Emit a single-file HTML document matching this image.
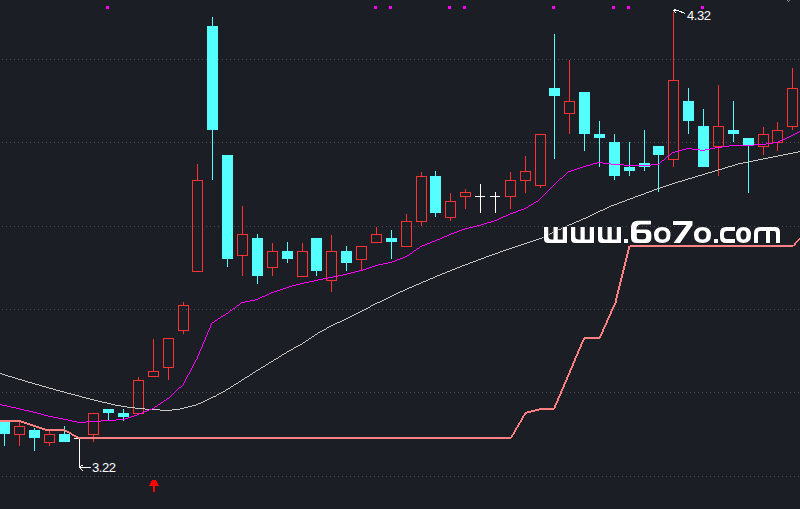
<!DOCTYPE html>
<html><head><meta charset="utf-8"><style>
html,body{margin:0;padding:0;background:#1c1e25;}
body{width:800px;height:509px;overflow:hidden;position:relative;}
svg{position:absolute;left:0;top:0;}
.lbl{position:absolute;color:#fff;font-family:"Liberation Sans",sans-serif;font-size:13px;line-height:13px;white-space:nowrap;letter-spacing:-0.4px;}
</style></head><body>
<svg width="800" height="509" viewBox="0 0 800 509">
<g shape-rendering="crispEdges"><line x1="2" y1="59.5" x2="800" y2="59.5" stroke="#4a505b" stroke-width="1" stroke-dasharray="1 3"/><line x1="2" y1="142.5" x2="800" y2="142.5" stroke="#4a505b" stroke-width="1" stroke-dasharray="1 3"/><line x1="2" y1="226.5" x2="800" y2="226.5" stroke="#4a505b" stroke-width="1" stroke-dasharray="1 3"/><line x1="2" y1="309.5" x2="800" y2="309.5" stroke="#4a505b" stroke-width="1" stroke-dasharray="1 3"/><line x1="2" y1="392.5" x2="800" y2="392.5" stroke="#4a505b" stroke-width="1" stroke-dasharray="1 3"/><line x1="2" y1="476.5" x2="800" y2="476.5" stroke="#4a505b" stroke-width="1" stroke-dasharray="1 3"/></g>
<g shape-rendering="crispEdges"><rect x="0" y="420" width="10" height="14" fill="#54ffff"/><rect x="4" y="434" width="1" height="12" fill="#54ffff"/><rect x="14.5" y="426.5" width="10" height="8" fill="none" stroke="#ff3232"/><rect x="19" y="422" width="1" height="4" fill="#ff3232"/><rect x="19" y="435" width="1" height="11" fill="#ff3232"/><rect x="29" y="430" width="11" height="8" fill="#54ffff"/><rect x="34" y="428" width="1" height="2" fill="#54ffff"/><rect x="34" y="438" width="1" height="13" fill="#54ffff"/><rect x="44.5" y="434.5" width="10" height="8" fill="none" stroke="#ff3232"/><rect x="49" y="430" width="1" height="4" fill="#ff3232"/><rect x="49" y="443" width="1" height="3" fill="#ff3232"/><rect x="59" y="434" width="11" height="8" fill="#54ffff"/><rect x="64" y="426" width="1" height="8" fill="#54ffff"/><rect x="74" y="438" width="10" height="1" fill="#ffffff"/><rect x="88.5" y="413.5" width="10" height="21" fill="none" stroke="#ff3232"/><rect x="93" y="435" width="1" height="7" fill="#ff3232"/><rect x="103" y="409" width="11" height="4" fill="#54ffff"/><rect x="108" y="413" width="1" height="7" fill="#54ffff"/><rect x="118" y="413" width="11" height="4" fill="#54ffff"/><rect x="123" y="409" width="1" height="4" fill="#54ffff"/><rect x="123" y="417" width="1" height="4" fill="#54ffff"/><rect x="133.5" y="380.5" width="10" height="33" fill="none" stroke="#ff3232"/><rect x="138" y="377" width="1" height="3" fill="#ff3232"/><rect x="148.5" y="371.5" width="10" height="5" fill="none" stroke="#ff3232"/><rect x="153" y="339" width="1" height="32" fill="#ff3232"/><rect x="163.5" y="338.5" width="10" height="29" fill="none" stroke="#ff3232"/><rect x="168" y="368" width="1" height="12" fill="#ff3232"/><rect x="178.5" y="305.5" width="10" height="25" fill="none" stroke="#ff3232"/><rect x="183" y="302" width="1" height="3" fill="#ff3232"/><rect x="183" y="331" width="1" height="3" fill="#ff3232"/><rect x="192.5" y="180.5" width="10" height="91" fill="none" stroke="#ff3232"/><rect x="197" y="164" width="1" height="16" fill="#ff3232"/><rect x="207" y="26" width="11" height="104" fill="#54ffff"/><rect x="212" y="17" width="1" height="9" fill="#54ffff"/><rect x="212" y="130" width="1" height="50" fill="#54ffff"/><rect x="222" y="155" width="11" height="104" fill="#54ffff"/><rect x="227" y="259" width="1" height="8" fill="#54ffff"/><rect x="237.5" y="234.5" width="10" height="21" fill="none" stroke="#ff3232"/><rect x="242" y="206" width="1" height="28" fill="#ff3232"/><rect x="242" y="256" width="1" height="20" fill="#ff3232"/><rect x="252" y="238" width="11" height="38" fill="#54ffff"/><rect x="257" y="234" width="1" height="4" fill="#54ffff"/><rect x="257" y="276" width="1" height="8" fill="#54ffff"/><rect x="267.5" y="251.5" width="10" height="16" fill="none" stroke="#ff3232"/><rect x="272" y="243" width="1" height="8" fill="#ff3232"/><rect x="272" y="268" width="1" height="8" fill="#ff3232"/><rect x="282" y="251" width="11" height="8" fill="#54ffff"/><rect x="287" y="242" width="1" height="9" fill="#54ffff"/><rect x="287" y="259" width="1" height="4" fill="#54ffff"/><rect x="297.5" y="251.5" width="10" height="25" fill="none" stroke="#ff3232"/><rect x="302" y="243" width="1" height="8" fill="#ff3232"/><rect x="311" y="238" width="11" height="33" fill="#54ffff"/><rect x="316" y="271" width="1" height="5" fill="#54ffff"/><rect x="326.5" y="251.5" width="10" height="29" fill="none" stroke="#ff3232"/><rect x="331" y="235" width="1" height="16" fill="#ff3232"/><rect x="331" y="281" width="1" height="11" fill="#ff3232"/><rect x="341" y="251" width="11" height="12" fill="#54ffff"/><rect x="346" y="246" width="1" height="5" fill="#54ffff"/><rect x="346" y="263" width="1" height="8" fill="#54ffff"/><rect x="356.5" y="246.5" width="10" height="13" fill="none" stroke="#ff3232"/><rect x="361" y="260" width="1" height="10" fill="#ff3232"/><rect x="371.5" y="234.5" width="10" height="8" fill="none" stroke="#ff3232"/><rect x="376" y="227" width="1" height="7" fill="#ff3232"/><rect x="386" y="238" width="11" height="4" fill="#54ffff"/><rect x="391" y="230" width="1" height="8" fill="#54ffff"/><rect x="391" y="242" width="1" height="17" fill="#54ffff"/><rect x="401.5" y="221.5" width="10" height="25" fill="none" stroke="#ff3232"/><rect x="406" y="214" width="1" height="7" fill="#ff3232"/><rect x="416.5" y="176.5" width="10" height="45" fill="none" stroke="#ff3232"/><rect x="421" y="172" width="1" height="4" fill="#ff3232"/><rect x="421" y="222" width="1" height="4" fill="#ff3232"/><rect x="430" y="176" width="11" height="37" fill="#54ffff"/><rect x="435" y="171" width="1" height="5" fill="#54ffff"/><rect x="435" y="213" width="1" height="4" fill="#54ffff"/><rect x="445.5" y="201.5" width="10" height="16" fill="none" stroke="#ff3232"/><rect x="450" y="193" width="1" height="8" fill="#ff3232"/><rect x="450" y="218" width="1" height="3" fill="#ff3232"/><rect x="460.5" y="192.5" width="10" height="4" fill="none" stroke="#ff3232"/><rect x="465" y="189" width="1" height="3" fill="#ff3232"/><rect x="465" y="197" width="1" height="12" fill="#ff3232"/><rect x="475" y="196" width="10" height="1" fill="#ffffff"/><rect x="480" y="184" width="1" height="29" fill="#ffffff"/><rect x="490" y="196" width="10" height="1" fill="#ffffff"/><rect x="495" y="192" width="1" height="21" fill="#ffffff"/><rect x="505.5" y="180.5" width="10" height="16" fill="none" stroke="#ff3232"/><rect x="510" y="172" width="1" height="8" fill="#ff3232"/><rect x="510" y="197" width="1" height="12" fill="#ff3232"/><rect x="520.5" y="171.5" width="10" height="9" fill="none" stroke="#ff3232"/><rect x="525" y="156" width="1" height="15" fill="#ff3232"/><rect x="525" y="181" width="1" height="12" fill="#ff3232"/><rect x="535.5" y="134.5" width="10" height="51" fill="none" stroke="#ff3232"/><rect x="540" y="186" width="1" height="2" fill="#ff3232"/><rect x="549" y="88" width="11" height="8" fill="#54ffff"/><rect x="554" y="34" width="1" height="54" fill="#54ffff"/><rect x="554" y="96" width="1" height="63" fill="#54ffff"/><rect x="564.5" y="101.5" width="10" height="12" fill="none" stroke="#ff3232"/><rect x="569" y="60" width="1" height="41" fill="#ff3232"/><rect x="569" y="114" width="1" height="20" fill="#ff3232"/><rect x="579" y="92" width="11" height="42" fill="#54ffff"/><rect x="584" y="134" width="1" height="17" fill="#54ffff"/><rect x="594" y="134" width="11" height="4" fill="#54ffff"/><rect x="599" y="121" width="1" height="13" fill="#54ffff"/><rect x="599" y="138" width="1" height="29" fill="#54ffff"/><rect x="609" y="142" width="11" height="34" fill="#54ffff"/><rect x="614" y="134" width="1" height="8" fill="#54ffff"/><rect x="614" y="176" width="1" height="4" fill="#54ffff"/><rect x="624" y="167" width="11" height="4" fill="#54ffff"/><rect x="629" y="142" width="1" height="25" fill="#54ffff"/><rect x="629" y="171" width="1" height="5" fill="#54ffff"/><rect x="639" y="163" width="11" height="4" fill="#54ffff"/><rect x="644" y="130" width="1" height="33" fill="#54ffff"/><rect x="644" y="167" width="1" height="4" fill="#54ffff"/><rect x="653" y="146" width="11" height="9" fill="#54ffff"/><rect x="658" y="155" width="1" height="37" fill="#54ffff"/><rect x="668.5" y="80.5" width="10" height="79" fill="none" stroke="#ff3232"/><rect x="673" y="12" width="1" height="68" fill="#ff3232"/><rect x="673" y="160" width="1" height="7" fill="#ff3232"/><rect x="683" y="101" width="11" height="20" fill="#54ffff"/><rect x="688" y="88" width="1" height="13" fill="#54ffff"/><rect x="688" y="121" width="1" height="13" fill="#54ffff"/><rect x="698" y="126" width="11" height="41" fill="#54ffff"/><rect x="703" y="109" width="1" height="17" fill="#54ffff"/><rect x="713.5" y="126.5" width="10" height="20" fill="none" stroke="#ff3232"/><rect x="718" y="85" width="1" height="41" fill="#ff3232"/><rect x="718" y="147" width="1" height="29" fill="#ff3232"/><rect x="728" y="130" width="11" height="4" fill="#54ffff"/><rect x="733" y="101" width="1" height="29" fill="#54ffff"/><rect x="733" y="134" width="1" height="8" fill="#54ffff"/><rect x="743" y="138" width="11" height="7" fill="#54ffff"/><rect x="748" y="145" width="1" height="48" fill="#54ffff"/><rect x="758.5" y="134.5" width="10" height="12" fill="none" stroke="#ff3232"/><rect x="763" y="127" width="1" height="7" fill="#ff3232"/><rect x="763" y="147" width="1" height="8" fill="#ff3232"/><rect x="772.5" y="130.5" width="10" height="12" fill="none" stroke="#ff3232"/><rect x="777" y="122" width="1" height="8" fill="#ff3232"/><rect x="777" y="143" width="1" height="8" fill="#ff3232"/><rect x="787.5" y="88.5" width="10" height="38" fill="none" stroke="#ff3232"/><rect x="792" y="68" width="1" height="20" fill="#ff3232"/><rect x="792" y="127" width="1" height="3" fill="#ff3232"/></g>
<path d="M798 151h2v1h-2zM793 152h5v1h-5zM788 153h5v1h-5zM783 154h5v1h-5zM778 155h5v1h-5zM773 156h5v1h-5zM768 157h5v1h-5zM763 158h5v1h-5zM758 159h5v1h-5zM753 160h5v1h-5zM748 161h5v1h-5zM743 162h5v1h-5zM738 163h5v1h-5zM735 164h3v1h-3zM732 165h3v1h-3zM728 166h4v1h-4zM725 167h3v1h-3zM722 168h3v1h-3zM718 169h4v1h-4zM715 170h3v1h-3zM712 171h3v1h-3zM708 172h4v1h-4zM705 173h3v1h-3zM702 174h3v1h-3zM698 175h4v1h-4zM695 176h3v1h-3zM692 177h3v1h-3zM688 178h4v1h-4zM685 179h3v1h-3zM682 180h3v1h-3zM678 181h4v1h-4zM675 182h3v1h-3zM672 183h3v1h-3zM669 184h3v1h-3zM666 185h3v1h-3zM663 186h3v1h-3zM660 187h3v1h-3zM657 188h3v1h-3zM654 189h3v1h-3zM652 190h2v1h-2zM649 191h3v1h-3zM646 192h3v1h-3zM644 193h2v1h-2zM641 194h3v1h-3zM638 195h3v1h-3zM635 196h3v1h-3zM633 197h2v1h-2zM630 198h3v1h-3zM627 199h3v1h-3zM625 200h2v1h-2zM622 201h3v1h-3zM619 202h3v1h-3zM617 203h2v1h-2zM614 204h3v1h-3zM611 205h3v1h-3zM609 206h2v1h-2zM607 207h2v1h-2zM605 208h2v1h-2zM603 209h2v1h-2zM600 210h3v1h-3zM598 211h2v1h-2zM596 212h2v1h-2zM594 213h2v1h-2zM592 214h2v1h-2zM590 215h2v1h-2zM588 216h2v1h-2zM586 217h2v1h-2zM583 218h3v1h-3zM581 219h2v1h-2zM579 220h2v1h-2zM576 221h3v1h-3zM574 222h2v1h-2zM572 223h2v1h-2zM569 224h3v1h-3zM567 225h2v1h-2zM565 226h2v1h-2zM563 227h2v1h-2zM561 228h2v1h-2zM558 229h3v1h-3zM556 230h2v1h-2zM554 231h2v1h-2zM552 232h2v1h-2zM550 233h2v1h-2zM548 234h2v1h-2zM546 235h2v1h-2zM544 236h2v1h-2zM542 237h2v1h-2zM539 238h3v1h-3zM536 239h3v1h-3zM533 240h3v1h-3zM530 241h3v1h-3zM527 242h3v1h-3zM524 243h3v1h-3zM521 244h3v1h-3zM518 245h3v1h-3zM515 246h3v1h-3zM512 247h3v1h-3zM509 248h3v1h-3zM506 249h3v1h-3zM503 250h3v1h-3zM500 251h3v1h-3zM498 252h2v1h-2zM495 253h3v1h-3zM492 254h3v1h-3zM489 255h3v1h-3zM486 256h3v1h-3zM484 257h2v1h-2zM481 258h3v1h-3zM478 259h3v1h-3zM476 260h2v1h-2zM473 261h3v1h-3zM470 262h3v1h-3zM468 263h2v1h-2zM465 264h3v1h-3zM462 265h3v1h-3zM460 266h2v1h-2zM457 267h3v1h-3zM455 268h2v1h-2zM452 269h3v1h-3zM450 270h2v1h-2zM447 271h3v1h-3zM445 272h2v1h-2zM442 273h3v1h-3zM440 274h2v1h-2zM437 275h3v1h-3zM435 276h2v1h-2zM433 277h2v1h-2zM430 278h3v1h-3zM428 279h2v1h-2zM426 280h2v1h-2zM423 281h3v1h-3zM421 282h2v1h-2zM419 283h2v1h-2zM416 284h3v1h-3zM414 285h2v1h-2zM412 286h2v1h-2zM409 287h3v1h-3zM407 288h2v1h-2zM405 289h2v1h-2zM403 290h2v1h-2zM400 291h3v1h-3zM398 292h2v1h-2zM396 293h2v1h-2zM394 294h2v1h-2zM392 295h2v1h-2zM390 296h2v1h-2zM388 297h2v1h-2zM386 298h2v1h-2zM384 299h2v1h-2zM382 300h2v1h-2zM380 301h2v1h-2zM377 302h3v1h-3zM375 303h2v1h-2zM373 304h2v1h-2zM371 305h2v1h-2zM370 306h1v1h-1zM368 307h2v1h-2zM366 308h2v1h-2zM364 309h2v1h-2zM362 310h2v1h-2zM360 311h2v1h-2zM358 312h2v1h-2zM356 313h2v1h-2zM354 314h2v1h-2zM352 315h2v1h-2zM350 316h2v1h-2zM348 317h2v1h-2zM346 318h2v1h-2zM344 319h2v1h-2zM342 320h2v1h-2zM340 321h2v1h-2zM337 322h3v1h-3zM335 323h2v1h-2zM333 324h2v1h-2zM331 325h2v1h-2zM329 326h2v1h-2zM327 327h2v1h-2zM326 328h1v1h-1zM324 329h2v1h-2zM322 330h2v1h-2zM320 331h2v1h-2zM318 332h2v1h-2zM317 333h1v1h-1zM315 334h2v1h-2zM314 335h1v1h-1zM312 336h2v1h-2zM311 337h1v1h-1zM309 338h2v1h-2zM308 339h1v1h-1zM306 340h2v1h-2zM305 341h1v1h-1zM303 342h2v1h-2zM302 343h1v1h-1zM300 344h2v1h-2zM298 345h2v1h-2zM296 346h2v1h-2zM294 347h2v1h-2zM293 348h1v1h-1zM291 349h2v1h-2zM289 350h2v1h-2zM287 351h2v1h-2zM286 352h1v1h-1zM284 353h2v1h-2zM282 354h2v1h-2zM281 355h1v1h-1zM279 356h2v1h-2zM278 357h1v1h-1zM276 358h2v1h-2zM274 359h2v1h-2zM273 360h1v1h-1zM271 361h2v1h-2zM269 362h2v1h-2zM268 363h1v1h-1zM266 364h2v1h-2zM265 365h1v1h-1zM263 366h2v1h-2zM261 367h2v1h-2zM260 368h1v1h-1zM258 369h2v1h-2zM256 370h2v1h-2zM255 371h1v1h-1zM253 372h2v1h-2zM0 373h2v1h-2zM252 373h1v1h-1zM2 374h3v1h-3zM250 374h2v1h-2zM5 375h3v1h-3zM249 375h1v1h-1zM8 376h4v1h-4zM247 376h2v1h-2zM12 377h3v1h-3zM245 377h2v1h-2zM15 378h3v1h-3zM244 378h1v1h-1zM18 379h4v1h-4zM242 379h2v1h-2zM22 380h3v1h-3zM241 380h1v1h-1zM25 381h3v1h-3zM239 381h2v1h-2zM28 382h4v1h-4zM238 382h1v1h-1zM32 383h3v1h-3zM236 383h2v1h-2zM35 384h4v1h-4zM234 384h2v1h-2zM39 385h3v1h-3zM233 385h1v1h-1zM42 386h4v1h-4zM231 386h2v1h-2zM46 387h3v1h-3zM230 387h1v1h-1zM49 388h4v1h-4zM228 388h2v1h-2zM53 389h3v1h-3zM226 389h2v1h-2zM56 390h4v1h-4zM225 390h1v1h-1zM60 391h4v1h-4zM223 391h2v1h-2zM64 392h3v1h-3zM221 392h2v1h-2zM67 393h4v1h-4zM219 393h2v1h-2zM71 394h4v1h-4zM217 394h2v1h-2zM75 395h4v1h-4zM216 395h1v1h-1zM79 396h3v1h-3zM213 396h3v1h-3zM82 397h4v1h-4zM211 397h2v1h-2zM86 398h4v1h-4zM209 398h2v1h-2zM90 399h4v1h-4zM207 399h2v1h-2zM94 400h4v1h-4zM205 400h2v1h-2zM98 401h4v1h-4zM203 401h2v1h-2zM102 402h5v1h-5zM201 402h2v1h-2zM107 403h4v1h-4zM198 403h3v1h-3zM111 404h4v1h-4zM196 404h2v1h-2zM115 405h6v1h-6zM192 405h4v1h-4zM121 406h6v1h-6zM188 406h4v1h-4zM127 407h8v1h-8zM184 407h4v1h-4zM135 408h10v1h-10zM180 408h4v1h-4zM145 409h15v1h-15zM172 409h8v1h-8zM160 410h12v1h-12z" fill="#c8c8c4" shape-rendering="crispEdges"/>
<path d="M799 131h1v1h-1zM797 132h2v1h-2zM795 133h2v1h-2zM793 134h2v1h-2zM791 135h2v1h-2zM789 136h2v1h-2zM787 137h2v1h-2zM785 138h2v1h-2zM782 139h3v1h-3zM780 140h2v1h-2zM778 141h2v1h-2zM773 142h5v1h-5zM766 143h7v1h-7zM754 144h12v1h-12zM729 145h25v1h-25zM722 146h7v1h-7zM715 147h7v1h-7zM686 148h6v1h-6zM710 148h5v1h-5zM682 149h4v1h-4zM692 149h8v1h-8zM705 149h5v1h-5zM679 150h3v1h-3zM700 150h5v1h-5zM675 151h4v1h-4zM672 152h3v1h-3zM671 153h1v1h-1zM670 154h1v1h-1zM669 155h1v1h-1zM667 156h2v1h-2zM666 157h1v1h-1zM665 158h1v1h-1zM664 159h1v1h-1zM662 160h2v1h-2zM661 161h1v1h-1zM597 162h6v1h-6zM660 162h1v1h-1zM593 163h4v1h-4zM603 163h8v1h-8zM659 163h1v1h-1zM590 164h3v1h-3zM611 164h13v1h-13zM651 164h8v1h-8zM586 165h4v1h-4zM624 165h27v1h-27zM583 166h3v1h-3zM580 167h3v1h-3zM577 168h3v1h-3zM574 169h3v1h-3zM571 170h3v1h-3zM568 171h3v1h-3zM567 172h1v1h-1zM566 173h1v1h-1zM565 174h1v1h-1zM564 175h1v1h-1zM563 176h1v1h-1zM562 177h1v1h-1zM560 178h2v1h-2zM559 179h1v1h-1zM558 180h1v1h-1zM557 181h1v1h-1zM556 182h1v1h-1zM555 183h1v1h-1zM554 184h1v1h-1zM553 185h1v1h-1zM552 186h1v1h-1zM551 187h1v1h-1zM550 188h1v1h-1zM549 189h1v1h-1zM548 190h1v1h-1zM547 191h1v1h-1zM546 192h1v1h-1zM545 193h1v1h-1zM544 194h1v1h-1zM543 195h1v1h-1zM542 196h1v1h-1zM541 197h1v1h-1zM540 198h1v1h-1zM539 199h1v1h-1zM538 200h1v1h-1zM536 201h2v1h-2zM534 202h2v1h-2zM533 203h1v1h-1zM531 204h2v1h-2zM529 205h2v1h-2zM528 206h1v1h-1zM526 207h2v1h-2zM524 208h2v1h-2zM521 209h3v1h-3zM518 210h3v1h-3zM516 211h2v1h-2zM513 212h3v1h-3zM510 213h3v1h-3zM508 214h2v1h-2zM506 215h2v1h-2zM503 216h3v1h-3zM501 217h2v1h-2zM499 218h2v1h-2zM497 219h2v1h-2zM494 220h3v1h-3zM491 221h3v1h-3zM487 222h4v1h-4zM484 223h3v1h-3zM481 224h3v1h-3zM477 225h4v1h-4zM473 226h4v1h-4zM469 227h4v1h-4zM465 228h4v1h-4zM462 229h3v1h-3zM459 230h3v1h-3zM457 231h2v1h-2zM454 232h3v1h-3zM451 233h3v1h-3zM449 234h2v1h-2zM447 235h2v1h-2zM444 236h3v1h-3zM442 237h2v1h-2zM440 238h2v1h-2zM437 239h3v1h-3zM435 240h2v1h-2zM432 241h3v1h-3zM430 242h2v1h-2zM427 243h3v1h-3zM425 244h2v1h-2zM422 245h3v1h-3zM420 246h2v1h-2zM419 247h1v1h-1zM417 248h2v1h-2zM416 249h1v1h-1zM414 250h2v1h-2zM413 251h1v1h-1zM412 252h1v1h-1zM410 253h2v1h-2zM409 254h1v1h-1zM407 255h2v1h-2zM405 256h2v1h-2zM403 257h2v1h-2zM400 258h3v1h-3zM397 259h3v1h-3zM395 260h2v1h-2zM392 261h3v1h-3zM388 262h4v1h-4zM383 263h5v1h-5zM378 264h5v1h-5zM375 265h3v1h-3zM372 266h3v1h-3zM369 267h3v1h-3zM366 268h3v1h-3zM363 269h3v1h-3zM359 270h4v1h-4zM355 271h4v1h-4zM351 272h4v1h-4zM347 273h4v1h-4zM343 274h4v1h-4zM338 275h5v1h-5zM333 276h5v1h-5zM328 277h5v1h-5zM323 278h5v1h-5zM318 279h5v1h-5zM314 280h4v1h-4zM309 281h5v1h-5zM304 282h5v1h-5zM300 283h4v1h-4zM296 284h4v1h-4zM292 285h4v1h-4zM289 286h3v1h-3zM286 287h3v1h-3zM283 288h3v1h-3zM280 289h3v1h-3zM277 290h3v1h-3zM274 291h3v1h-3zM271 292h3v1h-3zM269 293h2v1h-2zM267 294h2v1h-2zM265 295h2v1h-2zM262 296h3v1h-3zM260 297h2v1h-2zM258 298h2v1h-2zM255 299h3v1h-3zM250 300h5v1h-5zM245 301h5v1h-5zM241 302h4v1h-4zM240 303h1v1h-1zM239 304h1v1h-1zM237 305h2v1h-2zM236 306h1v1h-1zM235 307h1v1h-1zM233 308h2v1h-2zM232 309h1v1h-1zM230 310h2v1h-2zM229 311h1v1h-1zM228 312h1v1h-1zM226 313h2v1h-2zM225 314h1v1h-1zM223 315h2v1h-2zM221 316h2v1h-2zM220 317h1v1h-1zM218 318h2v1h-2zM217 319h1v1h-1zM215 320h2v1h-2zM214 321h1v1h-1zM212 322h2v1h-2zM211 323h1v1h-1zM211 324h1v1h-1zM210 325h1v1h-1zM210 326h1v1h-1zM210 327h1v1h-1zM209 328h1v1h-1zM209 329h1v1h-1zM208 330h1v1h-1zM208 331h1v1h-1zM207 332h1v1h-1zM207 333h1v1h-1zM207 334h1v1h-1zM206 335h1v1h-1zM206 336h1v1h-1zM205 337h1v1h-1zM205 338h1v1h-1zM205 339h1v1h-1zM204 340h1v1h-1zM204 341h1v1h-1zM203 342h1v1h-1zM203 343h1v1h-1zM202 344h1v1h-1zM202 345h1v1h-1zM202 346h1v1h-1zM201 347h1v1h-1zM201 348h1v1h-1zM200 349h1v1h-1zM200 350h1v1h-1zM199 351h1v1h-1zM199 352h1v1h-1zM199 353h1v1h-1zM198 354h1v1h-1zM198 355h1v1h-1zM197 356h1v1h-1zM197 357h1v1h-1zM197 358h1v1h-1zM196 359h1v1h-1zM195 360h1v1h-1zM195 361h1v1h-1zM194 362h1v1h-1zM194 363h1v1h-1zM193 364h1v1h-1zM193 365h1v1h-1zM192 366h1v1h-1zM192 367h1v1h-1zM191 368h1v1h-1zM191 369h1v1h-1zM190 370h1v1h-1zM190 371h1v1h-1zM189 372h1v1h-1zM189 373h1v1h-1zM188 374h1v1h-1zM187 375h1v1h-1zM187 376h1v1h-1zM186 377h1v1h-1zM186 378h1v1h-1zM185 379h1v1h-1zM185 380h1v1h-1zM184 381h1v1h-1zM184 382h1v1h-1zM183 383h1v1h-1zM183 384h1v1h-1zM182 385h1v1h-1zM181 386h1v1h-1zM179 387h2v1h-2zM178 388h1v1h-1zM177 389h1v1h-1zM176 390h1v1h-1zM175 391h1v1h-1zM174 392h1v1h-1zM173 393h1v1h-1zM172 394h1v1h-1zM171 395h1v1h-1zM170 396h1v1h-1zM169 397h1v1h-1zM167 398h2v1h-2zM166 399h1v1h-1zM164 400h2v1h-2zM163 401h1v1h-1zM161 402h2v1h-2zM160 403h1v1h-1zM0 404h2v1h-2zM158 404h2v1h-2zM2 405h5v1h-5zM157 405h1v1h-1zM7 406h4v1h-4zM155 406h2v1h-2zM11 407h5v1h-5zM154 407h1v1h-1zM16 408h4v1h-4zM152 408h2v1h-2zM20 409h4v1h-4zM149 409h3v1h-3zM24 410h5v1h-5zM147 410h2v1h-2zM29 411h4v1h-4zM144 411h3v1h-3zM33 412h4v1h-4zM142 412h2v1h-2zM37 413h4v1h-4zM139 413h3v1h-3zM41 414h3v1h-3zM137 414h2v1h-2zM44 415h4v1h-4zM134 415h3v1h-3zM48 416h5v1h-5zM131 416h3v1h-3zM53 417h5v1h-5zM128 417h3v1h-3zM58 418h5v1h-5zM125 418h3v1h-3zM63 419h5v1h-5zM116 419h9v1h-9zM68 420h4v1h-4zM101 420h15v1h-15zM72 421h5v1h-5zM86 421h15v1h-15zM77 422h9v1h-9z" fill="#ff00ff" shape-rendering="crispEdges"/>
<path d="M799 238h1v1h-1zM798 239h2v1h-2zM797 240h2v1h-2zM796 241h2v1h-2zM795 242h2v1h-2zM794 243h2v1h-2zM794 244h2v1h-2zM630 245h165v1h-165zM628 246h165v1h-165zM628 247h2v1h-2zM628 248h2v1h-2zM628 249h2v1h-2zM627 250h2v1h-2zM627 251h2v1h-2zM627 252h2v1h-2zM627 253h2v1h-2zM626 254h2v1h-2zM626 255h2v1h-2zM626 256h2v1h-2zM626 257h2v1h-2zM625 258h2v1h-2zM625 259h2v1h-2zM625 260h2v1h-2zM625 261h2v1h-2zM624 262h2v1h-2zM624 263h2v1h-2zM624 264h2v1h-2zM624 265h2v1h-2zM623 266h2v1h-2zM623 267h2v1h-2zM623 268h2v1h-2zM623 269h2v1h-2zM622 270h2v1h-2zM622 271h2v1h-2zM622 272h2v1h-2zM622 273h2v1h-2zM621 274h2v1h-2zM621 275h2v1h-2zM621 276h2v1h-2zM621 277h2v1h-2zM620 278h2v1h-2zM620 279h2v1h-2zM620 280h2v1h-2zM620 281h2v1h-2zM619 282h2v1h-2zM619 283h2v1h-2zM619 284h2v1h-2zM619 285h2v1h-2zM618 286h2v1h-2zM618 287h2v1h-2zM618 288h2v1h-2zM618 289h2v1h-2zM617 290h2v1h-2zM617 291h2v1h-2zM617 292h2v1h-2zM617 293h2v1h-2zM616 294h2v1h-2zM616 295h2v1h-2zM616 296h2v1h-2zM616 297h2v1h-2zM615 298h2v1h-2zM615 299h2v1h-2zM615 300h2v1h-2zM615 301h2v1h-2zM615 302h2v1h-2zM614 303h2v1h-2zM614 304h2v1h-2zM613 305h2v1h-2zM613 306h2v1h-2zM612 307h2v1h-2zM612 308h2v1h-2zM611 309h2v1h-2zM611 310h2v1h-2zM610 311h2v1h-2zM610 312h2v1h-2zM610 313h2v1h-2zM609 314h2v1h-2zM609 315h2v1h-2zM608 316h2v1h-2zM608 317h2v1h-2zM607 318h2v1h-2zM607 319h2v1h-2zM606 320h2v1h-2zM606 321h2v1h-2zM606 322h2v1h-2zM605 323h2v1h-2zM605 324h2v1h-2zM604 325h2v1h-2zM604 326h2v1h-2zM603 327h2v1h-2zM603 328h2v1h-2zM602 329h2v1h-2zM602 330h2v1h-2zM602 331h2v1h-2zM601 332h2v1h-2zM601 333h2v1h-2zM600 334h2v1h-2zM600 335h2v1h-2zM599 336h2v1h-2zM584 337h17v1h-17zM583 338h17v1h-17zM583 339h2v1h-2zM582 340h2v1h-2zM582 341h2v1h-2zM581 342h2v1h-2zM581 343h2v1h-2zM580 344h2v1h-2zM580 345h2v1h-2zM580 346h2v1h-2zM579 347h2v1h-2zM579 348h2v1h-2zM578 349h2v1h-2zM578 350h2v1h-2zM577 351h2v1h-2zM577 352h2v1h-2zM577 353h2v1h-2zM576 354h2v1h-2zM576 355h2v1h-2zM575 356h2v1h-2zM575 357h2v1h-2zM574 358h2v1h-2zM574 359h2v1h-2zM574 360h2v1h-2zM573 361h2v1h-2zM573 362h2v1h-2zM572 363h2v1h-2zM572 364h2v1h-2zM572 365h2v1h-2zM571 366h2v1h-2zM571 367h2v1h-2zM570 368h2v1h-2zM570 369h2v1h-2zM569 370h2v1h-2zM569 371h2v1h-2zM569 372h2v1h-2zM568 373h2v1h-2zM568 374h2v1h-2zM567 375h2v1h-2zM567 376h2v1h-2zM566 377h2v1h-2zM566 378h2v1h-2zM566 379h2v1h-2zM565 380h2v1h-2zM565 381h2v1h-2zM564 382h2v1h-2zM564 383h2v1h-2zM563 384h2v1h-2zM563 385h2v1h-2zM563 386h2v1h-2zM562 387h2v1h-2zM562 388h2v1h-2zM561 389h2v1h-2zM561 390h2v1h-2zM560 391h2v1h-2zM560 392h2v1h-2zM560 393h2v1h-2zM559 394h2v1h-2zM559 395h2v1h-2zM558 396h2v1h-2zM558 397h2v1h-2zM557 398h2v1h-2zM557 399h2v1h-2zM557 400h2v1h-2zM556 401h2v1h-2zM556 402h2v1h-2zM555 403h2v1h-2zM555 404h2v1h-2zM554 405h2v1h-2zM554 406h2v1h-2zM554 407h2v1h-2zM539 408h16v1h-16zM535 409h19v1h-19zM531 410h8v1h-8zM527 411h8v1h-8zM525 412h6v1h-6zM524 413h3v1h-3zM524 414h2v1h-2zM523 415h2v1h-2zM522 416h2v1h-2zM522 417h2v1h-2zM521 418h2v1h-2zM521 419h2v1h-2zM0 420h21v1h-21zM520 420h2v1h-2zM0 421h24v1h-24zM520 421h2v1h-2zM21 422h6v1h-6zM519 422h2v1h-2zM24 423h6v1h-6zM518 423h2v1h-2zM27 424h6v1h-6zM518 424h2v1h-2zM30 425h6v1h-6zM517 425h2v1h-2zM33 426h6v1h-6zM517 426h2v1h-2zM36 427h6v1h-6zM516 427h2v1h-2zM39 428h6v1h-6zM515 428h2v1h-2zM42 429h23v1h-23zM515 429h2v1h-2zM45 430h22v1h-22zM514 430h2v1h-2zM65 431h4v1h-4zM514 431h2v1h-2zM67 432h4v1h-4zM513 432h2v1h-2zM69 433h3v1h-3zM513 433h2v1h-2zM71 434h3v1h-3zM512 434h2v1h-2zM72 435h4v1h-4zM511 435h2v1h-2zM74 436h4v1h-4zM511 436h2v1h-2zM76 437h436v1h-436zM78 438h433v1h-433z" fill="#ff8080" shape-rendering="crispEdges"/>
<g shape-rendering="crispEdges"><rect x="106" y="6" width="3" height="3" fill="#ff00ff"/><rect x="374" y="6" width="3" height="3" fill="#ff00ff"/><rect x="389" y="6" width="3" height="3" fill="#ff00ff"/><rect x="448" y="6" width="3" height="3" fill="#ff00ff"/><rect x="463" y="6" width="3" height="3" fill="#ff00ff"/><rect x="552" y="6" width="3" height="3" fill="#ff00ff"/><rect x="612" y="6" width="3" height="3" fill="#ff00ff"/><rect x="627" y="6" width="3" height="3" fill="#ff00ff"/><rect x="701" y="6" width="3" height="3" fill="#ff00ff"/></g>
<g shape-rendering="crispEdges" fill="#ffffff"><rect x="79" y="439" width="1" height="29"/><rect x="80" y="467" width="11" height="1"/></g>
<path d="M82.5 465 L79.5 467.5 L83 471" fill="none" stroke="#ffffff" stroke-width="1" shape-rendering="crispEdges"/>
<path d="M676.5 8.5 L673.5 10.5 L676.5 13.5 M673.5 10.5 L678 10.5 L685 13.5" fill="none" stroke="#ffffff" stroke-width="1" shape-rendering="crispEdges"/>
<g fill="#8a8a8a" shape-rendering="crispEdges"><rect x="787" y="0" width="1" height="1"/><rect x="789" y="0" width="1" height="1"/><rect x="788" y="1" width="1" height="1"/></g>
<g fill="#ff0000" shape-rendering="crispEdges"><rect x="152" y="480" width="4" height="1"/><rect x="151" y="481" width="6" height="1"/><rect x="151" y="482" width="6" height="1"/><rect x="150" y="483" width="8" height="1"/><rect x="150" y="484" width="8" height="1"/><rect x="149" y="485" width="10" height="1"/><rect x="153" y="486" width="2" height="6"/></g>
</svg>
<div class="lbl" style="left:687px;top:9px;">4.32</div>
<div class="lbl" style="left:92px;top:461px;">3.22</div>
<svg width="800" height="509" viewBox="0 0 800 509" style="position:absolute;left:0;top:0;">
<g fill="#ffffff" fill-rule="evenodd" stroke="#141519" stroke-width="1" paint-order="stroke">
<path d="M544,227 h4.25 v9 q0,3.5 3.5,3.5 h1.75 v-12.5 h4.25 v12.5 h5 v-12.5 h4.25 v16 h-19 q-4,0 -4,-4 z"/>
<path d="M571,227 h4.25 v9 q0,3.5 3.5,3.5 h1.75 v-12.5 h4.25 v12.5 h5 v-12.5 h4.25 v16 h-19 q-4,0 -4,-4 z"/>
<path d="M598,227 h4.25 v9 q0,3.5 3.5,3.5 h1.75 v-12.5 h4.25 v12.5 h5 v-12.5 h4.25 v16 h-19 q-4,0 -4,-4 z"/>
<rect x="624" y="239" width="4" height="4"/>
<path d="M637.5,220.8 H651 V224.4 H641 Q636.6,224.4 636.3,229.5 H646 Q651.4,229.5 651.4,235 V237.8 Q651.4,243 646,243 H636.8 Q631,243 631,237.5 V228 Q631,220.8 637.5,220.8 Z M636.8,233.1 H644 Q646.2,233.1 646.2,235.5 V236.8 Q646.2,239.2 644,239.2 H639 Q636.8,239.2 636.8,237 Z"/>
<path d="M654,235 Q654,227 662.25,227 Q670.5,227 670.5,235 Q670.5,243 662.25,243 Q654,243 654,235 Z M658.5,235 Q658.5,239.5 662.5,239.5 Q666.5,239.5 666.5,235 Q666.5,230.5 662.5,230.5 Q658.5,230.5 658.5,235 Z"/>
<path d="M673,221 H692.5 V225 L680,243 H673.5 L686.5,225 H673 Z"/>
<path d="M694,235 Q694,227 702.5,227 Q711,227 711,235 Q711,243 702.5,243 Q694,243 694,235 Z M698.5,235 Q698.5,239.5 702.5,239.5 Q706.5,239.5 706.5,235 Q706.5,230.5 702.5,230.5 Q698.5,230.5 698.5,235 Z"/>
<rect x="714" y="239" width="4" height="4"/>
<path d="M735,227 H726 Q720,227 720,233 V237 Q720,243 726,243 H735 V239 H727 Q724,239 724,236 V234 Q724,231 727,231 H735 Z"/>
<path d="M736,235 Q736,227 743.5,227 Q751,227 751,235 Q751,243 743.5,243 Q736,243 736,235 Z M740.5,235 Q740.5,239.5 743.5,239.5 Q746.5,239.5 746.5,235 Q746.5,230.5 743.5,230.5 Q740.5,230.5 740.5,235 Z"/>
<path d="M754,243 V233 Q754,227 760,227 H775 Q780,227 780,232 V243 H776 V233 Q776,231 774,231 H770 V243 H766 V231 H760 Q758,231 758,233 V243 Z"/>
</g>
</svg>

</body></html>
